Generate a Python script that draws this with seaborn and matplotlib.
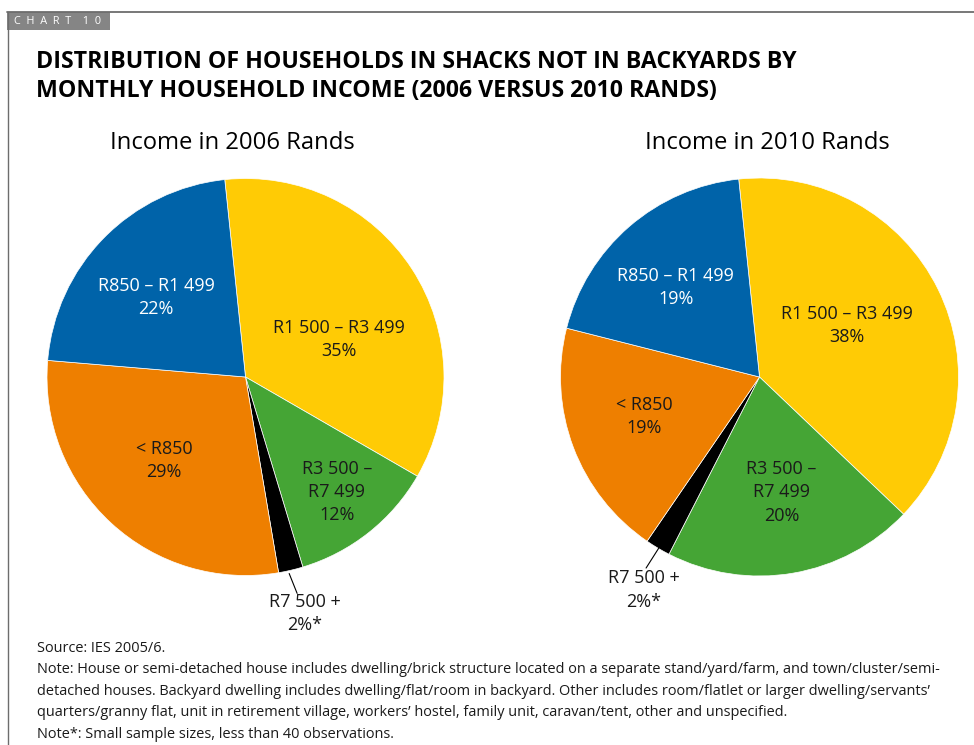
import matplotlib
matplotlib.use("Agg")
import matplotlib.pyplot as plt
from matplotlib.patches import Rectangle
from matplotlib.lines import Line2D
import seaborn as sns

# --- data -------------------------------------------------------------
categories = ["R1 500 – R3 499", "R3 500 –\nR7 499", "R7 500 +", "< R850", "R850 – R1 499"]
share_2006 = [35, 12, 2, 29, 22]
share_2010 = [38, 20, 2, 19, 19]
pct_suffix = ["%", "%", "%*", "%", "%"]
panel_titles = ["Income in 2006 Rands", "Income in 2010 Rands"]

title_lines = ["DISTRIBUTION OF HOUSEHOLDS IN SHACKS NOT IN BACKYARDS BY",
               "MONTHLY HOUSEHOLD INCOME (2006 VERSUS 2010 RANDS)"]
notes = [
    "Source: IES 2005/6.",
    "Note: House or semi-detached house includes dwelling/brick structure located on a separate stand/yard/farm, and town/cluster/semi-",
    "detached houses. Backyard dwelling includes dwelling/flat/room in backyard. Other includes room/flatlet or larger dwelling/servants’",
    "quarters/granny flat, unit in retirement village, workers’ hostel, family unit, caravan/tent, other and unspecified.",
    "Note*: Small sample sizes, less than 40 observations.",
]

# --- styling ----------------------------------------------------------
sns.set_theme(style="white")
plt.rcParams["font.family"] = ["Open Sans", "DejaVu Sans"]
palette = sns.color_palette(["#FFCB05", "#45A535", "#000000", "#EE7F00", "#0063A9"])
label_colors = ["#1a1a1a", "#1a1a1a", "#1a1a1a", "#1a1a1a", "white"]

W, H = 974, 745
fig = plt.figure(figsize=(W / 100, H / 100), dpi=100)


def fx(px):
    return px / W


def fy(py):
    return 1 - py / H


# frame and header tab
fig.add_artist(Line2D([fx(7), fx(974)], [fy(12), fy(12)], color="#6d6d6d", lw=1.3))
fig.add_artist(Line2D([fx(7.5), fx(7.5)], [fy(12), fy(745)], color="#6d6d6d", lw=1.0))
fig.add_artist(Rectangle((fx(7), fy(30)), fx(110) - fx(7), fy(12) - fy(30),
                         transform=fig.transFigure, color="#858585", lw=0))
fig.text(fx(14), fy(21.5), "C  H  A  R  T    1  0", color="white", fontsize=7.8,
         va="center", ha="left")

for i, line in enumerate(title_lines):
    fig.text(fx(36), fy(61.5 + 29.5 * i), line, fontsize=16.7, fontweight="bold",
             color="black", va="center", ha="left")

# pie panels: centre x (px), centre y (px), radius (px)
panels = [(245.5, 377, 198.5), (759.5, 377, 199)]
shares = [share_2006, share_2010]
title_x = [232, 767]

label_pos = [
    [(0.47, 0.19), (0.46, -0.58), (0.30, -1.19), (-0.41, -0.42), (-0.45, 0.40)],
    [(0.44, 0.26), (0.11, -0.58), (-0.58, -1.07), (-0.58, -0.20), (-0.42, 0.45)],
]
leader = [((0.22, -0.99), (0.26, -1.09)), ((-0.50, -0.85), (-0.57, -0.96))]

for k, (cx, cy, r) in enumerate(panels):
    ax = fig.add_axes([fx(cx - r), fy(cy + r), 2 * r / W, 2 * r / H])
    vals = shares[k]
    ax.pie(vals, colors=palette, startangle=96, counterclock=False,
           wedgeprops=dict(edgecolor="white", linewidth=0.5))
    ax.set_xlim(-1, 1)
    ax.set_ylim(-1, 1)
    ax.set_aspect("equal")
    ax.axis("off")
    for j, (cat, v) in enumerate(zip(categories, vals)):
        x, y = label_pos[k][j]
        ax.text(x, y, f"{cat}\n{v}{pct_suffix[j]}", ha="center", va="center",
                fontsize=13, color=label_colors[j], linespacing=1.38,
                clip_on=False)
    (x0, y0), (x1, y1) = leader[k]
    ax.plot([x0, x1], [y0, y1], color="black", lw=0.8, clip_on=False)
    fig.text(fx(title_x[k]), fy(143), panel_titles[k], fontsize=17.1,
             ha="center", va="center", color="black")

for i, line in enumerate(notes):
    fig.text(fx(37), fy(648 + 21.6 * i), line, fontsize=10.45, ha="left",
             va="center", color="#1a1a1a")

fig.savefig("out.png", dpi=100)
